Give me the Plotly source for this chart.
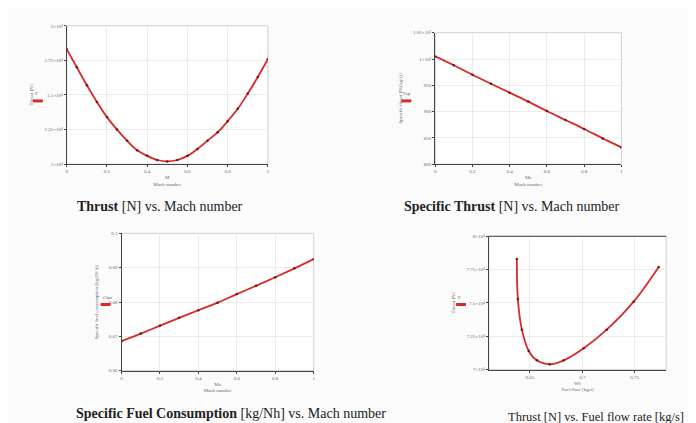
import plotly.graph_objects as go

W, H = 696, 423

# ---- data ----
mach1 = [0, 0.05, 0.1, 0.15, 0.2, 0.25, 0.3, 0.35, 0.4, 0.45, 0.5,
         0.55, 0.6, 0.65, 0.7, 0.75, 0.8, 0.85, 0.9, 0.95, 1.0]
thrust1 = [1.83e4, 1.70e4, 1.57e4, 1.45e4, 1.34e4, 1.25e4, 1.17e4, 1.10e4, 1.06e4, 1.03e4, 1.02e4,
           1.03e4, 1.06e4, 1.11e4, 1.17e4, 1.23e4, 1.31e4, 1.40e4, 1.51e4, 1.63e4, 1.76e4]

mach2 = [0, 0.1, 0.2, 0.3, 0.4, 0.5, 0.6, 0.7, 0.8, 0.9, 1.0]
spec_thrust = [1005, 988, 970, 953, 936, 919, 901, 884, 867, 849, 832]

mach3 = [0, 0.1, 0.2, 0.3, 0.4, 0.5, 0.6, 0.7, 0.8, 0.9, 1.0]
sfc = [0.0686, 0.0708, 0.0731, 0.0754, 0.0776, 0.0798, 0.0823, 0.0847, 0.0872, 0.0898, 0.0925]

fuel_flow = [0.6376, 0.6386, 0.6424, 0.649, 0.6567, 0.669, 0.6824, 0.7014, 0.7233, 0.749, 0.7729]
thrust4 = [7.83e4, 7.53e4, 7.30e4, 7.14e4, 7.07e4, 7.04e4, 7.07e4, 7.16e4, 7.30e4, 7.51e4, 7.77e4]

ticks1 = [1.0e4, 1.25e4, 1.5e4, 1.75e4, 2.0e4]
ticktext1 = ["1×10⁴", "1.25×10⁴", "1.5×10⁴", "1.75×10⁴", "2×10⁴"]
ticks2 = [800, 850, 900, 950, 1000, 1050]
ticktext2 = ["800", "850", "900", "950", "1×10³", "1.05×10³"]
ticks3 = [0.06, 0.07, 0.08, 0.09, 0.1]
ticktext3 = ["0.06", "0.07", "0.08", "0.09", "0.1"]
ticks4 = [7.0e4, 7.25e4, 7.5e4, 7.75e4, 8.0e4]
ticktext4 = ["7×10⁴", "7.25×10⁴", "7.5×10⁴", "7.75×10⁴", "8×10⁴"]
xticks_mach = [0, 0.2, 0.4, 0.6, 0.8, 1]
xticks4 = [0.65, 0.7, 0.75]

captions = [
    ("<b>Thrust</b> [N] vs. Mach number", 152, 199, "center", 14),
    ("<b>Specific Thrust</b> [N] vs. Mach number", 505, 199, "center", 14),
    ("<b>Specific Fuel Consumption</b> [kg/Nh] vs. Mach number", 223, 408, "center", 14),
    ("Thrust [N] vs. Fuel flow rate [kg/s]", 499, 412, "left", 12.5),
]

# ---- layout geometry (pixels) ----
boxes = [(58, 260, 16, 156), (428, 615, 23, 156), (113, 306, 226, 365), (482, 660, 229, 364)]

RED = "#d92a2a"
fig = go.Figure()
series = [(mach1, thrust1), (mach2, spec_thrust), (mach3, sfc), (fuel_flow, thrust4)]
for i, (xs, ys) in enumerate(series):
    ax = "" if i == 0 else str(i + 1)
    fig.add_trace(go.Scatter(
        x=xs, y=ys, mode="lines+markers", xaxis="x" + ax, yaxis="y" + ax,
        line=dict(color=RED, width=1.8, shape="spline"),
        marker=dict(color="#6a1818", size=2.5), showlegend=False))

layout = dict(width=W, height=H, margin=dict(l=0, r=0, t=0, b=0),
              paper_bgcolor="#fbfbfb", plot_bgcolor="white",
              font=dict(family="Liberation Serif", color="#555"))

axis_common = dict(showgrid=True, gridcolor="#ececec", gridwidth=1, zeroline=False,
                   showline=True, linecolor="#444", linewidth=1, ticks="outside",
                   ticklen=2, tickcolor="#444", tickfont=dict(size=5, color="#666"))

yranges = [(1.0e4, 2.0e4), (800, 1050), (0.06, 0.1), (7.0e4, 8.0e4)]
xranges = [(0, 1), (0, 1), (0, 1), (0.611, 0.78)]
ytv = [(ticks1, ticktext1), (ticks2, ticktext2), (ticks3, ticktext3), (ticks4, ticktext4)]
xtitles = ["M<br>Mach number", "Ma<br>Mach number", "Ma<br>Mach number", "Wf<br>Fuel flow [kg/s]"]
ytitles = ["Thrust [N]", "Specific thrust [N/(kg/s)]", "Specific fuel consumption [kg/(N·h)]", "Thrust [N]"]

for i, (x0, x1, y0, y1) in enumerate(boxes):
    ax = "" if i == 0 else str(i + 1)
    xt = xticks4 if i == 3 else xticks_mach
    layout["xaxis" + ax] = dict(axis_common, domain=[x0 / W, x1 / W], anchor="y" + ax,
                                range=list(xranges[i]), tickvals=xt,
                                title=dict(text=xtitles[i], font=dict(size=5, color="#666"), standoff=2))
    layout["yaxis" + ax] = dict(axis_common, domain=[1 - y1 / H, 1 - y0 / H], anchor="x" + ax,
                                range=list(yranges[i]), tickvals=ytv[i][0], ticktext=ytv[i][1],
                                title=dict(text=ytitles[i], font=dict(size=5, color="#666"), standoff=10))

fig.update_layout(**layout)

shapes = []
annotations = []
for i, (x0, x1, y0, y1) in enumerate(boxes):
    shapes.append(dict(type="rect", xref="paper", yref="paper",
                       x0=x0 / W, x1=x1 / W, y0=1 - y1 / H, y1=1 - y0 / H,
                       line=dict(color="#cfcfcf", width=1), layer="below"))
# top dark line on panel 4
shapes.append(dict(type="line", xref="paper", yref="paper", x0=482 / W, x1=660 / W,
                   y0=1 - 229 / H, y1=1 - 229 / H, line=dict(color="#444", width=1)))

legend_pos = [(24, 92, "F"), (394, 92, "Fsp"), (92, 298, "Cfpr"), (449, 298, "F")]
for lx, ly, lt in legend_pos:
    shapes.append(dict(type="line", xref="paper", yref="paper", x0=lx / W, x1=(lx + 10) / W,
                       y0=1 - ly / H, y1=1 - ly / H, line=dict(color=RED, width=3)))
    annotations.append(dict(text=lt, xref="paper", yref="paper", x=lx / W, y=1 - (ly - 3) / H,
                            xanchor="left", yanchor="bottom", showarrow=False,
                            font=dict(size=5, color="#666")))

for txt, cx, cy, anc, fs in captions:
    annotations.append(dict(text=txt, xref="paper", yref="paper", x=cx / W, y=1 - cy / H,
                            xanchor=anc, yanchor="middle", showarrow=False,
                            font=dict(size=fs, color="#222", family="Liberation Serif")))

fig.update_layout(shapes=shapes, annotations=annotations)
fig.write_html("out.html")
